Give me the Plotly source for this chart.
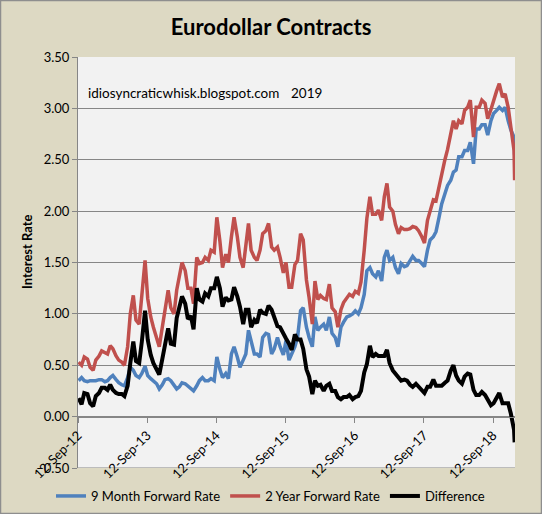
import pandas as pd
import plotly.graph_objects as go

# semi-monthly sample dates (1st / 15th) plus the final observation
dates = [d.strftime("%Y-%m-%d") for d in pd.date_range("2012-09-15", periods=152, freq="SMS")] + ["2019-01-04"]

two_year = [
    0.53, 0.50, 0.58, 0.56, 0.48, 0.45, 0.55, 0.59, 0.64, 0.62, 0.61, 0.69, 0.66, 0.59, 0.55, 0.53,
    0.50, 0.68, 1.00, 1.18, 0.94, 0.90, 1.15, 1.52, 1.15, 0.97, 0.87, 0.77, 0.68, 0.87, 1.06, 1.23,
    1.06, 1.00, 1.23, 1.36,
    1.50, 1.42, 1.25, 1.25, 1.10, 1.55, 1.49, 1.50, 1.55, 1.52, 1.62, 1.60, 1.94, 1.71, 1.45, 1.58,
    1.50, 1.75, 1.94, 1.75, 1.55, 1.45, 1.65, 1.88, 1.62, 1.55, 1.52, 1.62, 1.78, 1.81, 1.88, 1.65,
    1.62, 1.65, 1.55, 1.40, 1.50, 1.26, 1.26, 1.48, 1.52,
    1.78, 1.72, 1.33, 1.16, 0.90, 1.32, 1.14, 1.18, 1.15, 1.14, 1.29, 1.06, 1.02, 0.87, 1.04, 1.11,
    1.16, 1.19, 1.17, 1.22, 1.20, 1.31, 1.62, 1.93, 2.14, 1.97, 1.97, 2.01, 1.91, 2.14, 2.27, 2.04,
    2.00, 1.87, 1.78, 1.84,
    1.82, 1.82, 1.83, 1.85, 1.84, 1.81, 1.75, 1.69, 1.91, 2.01, 2.11, 2.10, 2.24, 2.37, 2.50, 2.60,
    2.75, 2.88, 2.80, 2.88, 2.85, 2.98, 3.01, 3.08, 2.72, 3.01, 3.01, 3.08, 3.05, 2.90, 2.99, 3.08,
    3.17, 3.24, 3.11, 3.14, 3.01, 2.82, 2.59, 2.30,
]

nine_month = [
    0.35, 0.38, 0.35, 0.34, 0.35, 0.35, 0.35, 0.36, 0.36, 0.34, 0.35, 0.38, 0.40, 0.36, 0.33, 0.31,
    0.30, 0.38, 0.48, 0.45, 0.40, 0.38, 0.42, 0.49, 0.40, 0.37, 0.35, 0.32, 0.27, 0.31, 0.36, 0.37,
    0.35, 0.30, 0.27, 0.29,
    0.33, 0.32, 0.30, 0.27, 0.25, 0.30, 0.35, 0.38, 0.35, 0.35, 0.37, 0.35, 0.58, 0.46, 0.38, 0.42,
    0.37, 0.61, 0.68, 0.58, 0.48, 0.55, 0.61, 0.84, 0.75, 0.61, 0.61, 0.58, 0.77, 0.81, 0.80, 0.61,
    0.66, 0.77, 0.68, 0.60, 0.74, 0.55, 0.61, 0.68, 0.77,
    1.03, 1.06, 0.87, 0.77, 0.68, 0.97, 0.84, 0.87, 0.90, 0.84, 0.97, 0.81, 0.77, 0.68, 0.87, 0.92,
    0.97, 0.98, 1.00, 1.03, 1.00, 1.06, 1.19, 1.42, 1.45, 1.39, 1.36, 1.42, 1.32, 1.55, 1.62, 1.52,
    1.55, 1.45, 1.39, 1.49,
    1.46, 1.47, 1.52, 1.56, 1.52, 1.52, 1.49, 1.46, 1.62, 1.72, 1.75, 1.80, 1.94, 2.07, 2.17, 2.25,
    2.30, 2.38, 2.40, 2.53, 2.53, 2.59, 2.59, 2.67, 2.46, 2.80, 2.80, 2.84, 2.84, 2.74, 2.88, 2.95,
    2.98, 3.01, 2.98, 3.01, 2.88, 2.79, 2.72, 2.55,
]

difference = [
    0.18, 0.12, 0.23, 0.22, 0.13, 0.10, 0.20, 0.23, 0.28, 0.28, 0.26, 0.31, 0.26, 0.23, 0.22, 0.22,
    0.20, 0.30, 0.52, 0.73, 0.54, 0.52, 0.73, 1.03, 0.75, 0.60, 0.52, 0.45, 0.41, 0.56, 0.70, 0.86,
    0.71, 0.70, 0.96, 1.07,
    1.17, 1.10, 0.95, 0.98, 0.85, 1.25, 1.14, 1.12, 1.20, 1.17, 1.25, 1.25, 1.36, 1.25, 1.07, 1.16,
    1.13, 1.14, 1.26, 1.17, 1.07, 0.90, 1.04, 1.04, 0.87, 0.94, 0.91, 1.04, 1.01, 1.00, 1.08, 1.04,
    0.96, 0.88, 0.87, 0.80, 0.76, 0.71, 0.65, 0.80, 0.75,
    0.75, 0.66, 0.46, 0.39, 0.22, 0.35, 0.30, 0.31, 0.25, 0.30, 0.32, 0.25, 0.25, 0.19, 0.17, 0.19,
    0.19, 0.21, 0.17, 0.19, 0.20, 0.25, 0.43, 0.51, 0.69, 0.58, 0.61, 0.59, 0.59, 0.59, 0.65, 0.52,
    0.45, 0.42, 0.39, 0.35,
    0.36, 0.35, 0.31, 0.29, 0.32, 0.29, 0.26, 0.23, 0.29, 0.29, 0.36, 0.30, 0.30, 0.30, 0.33, 0.35,
    0.45, 0.50, 0.40, 0.35, 0.32, 0.39, 0.42, 0.41, 0.26, 0.21, 0.21, 0.24, 0.21, 0.16, 0.11, 0.13,
    0.19, 0.23, 0.13, 0.13, 0.13, 0.03, -0.13, -0.25,
]

tick_dates = ["2012-09-12", "2013-09-12", "2014-09-12", "2015-09-12", "2016-09-12", "2017-09-12", "2018-09-12"]
tick_labels = ["12-Sep-12", "12-Sep-13", "12-Sep-14", "12-Sep-15", "12-Sep-16", "12-Sep-17", "12-Sep-18"]

FONT = "Lato"
L, R, T, B = 78, 27, 57, 46
W, H = 542, 514
PW, PH = W - L - R, H - T - B


def px_x(x):
    return (x - L) / PW


def px_y(y):
    return (H - B - y) / PH


fig = go.Figure()
fig.add_trace(go.Scatter(x=dates, y=nine_month, mode="lines", name="9 Month Forward Rate",
                         line=dict(color="#4F81BD", width=3.5)))
fig.add_trace(go.Scatter(x=dates, y=two_year, mode="lines", name="2 Year Forward Rate",
                         line=dict(color="#C0504D", width=3.5)))
fig.add_trace(go.Scatter(x=dates, y=difference, mode="lines", name="Difference",
                         line=dict(color="#000000", width=4)))

fig.update_layout(
    width=W, height=H,
    margin=dict(l=L, r=R, t=T, b=B, autoexpand=False),
    paper_bgcolor="#DDD9C3",
    plot_bgcolor="#F2F2F2",
    font=dict(family=FONT, size=13, color="#000000"),
    title=dict(text="<b>Eurodollar Contracts</b>", x=271 / W, xanchor="center", xref="container",
               y=1 - 27 / H, yanchor="middle", yref="container",
               font=dict(family=FONT, size=22, color="#000000")),
    showlegend=True,
    legend=dict(orientation="h", x=px_x(51), xanchor="left", y=px_y(496), yanchor="middle",
                bgcolor="rgba(0,0,0,0)", font=dict(family=FONT, size=13, color="#000000"),
                traceorder="normal"),
    xaxis=dict(type="date", range=["2012-09-12", "2019-01-06"], automargin=False,
               tickmode="array", tickvals=tick_dates, ticktext=tick_labels, tickangle=-45,
               anchor="free", position=0.125,
               showgrid=False, showline=True, linecolor="#868686", linewidth=1,
               ticks="outside", ticklen=5, tickcolor="#868686",
               tickfont=dict(family=FONT, size=13, color="#000000")),
    yaxis=dict(range=[-0.5, 3.5], dtick=0.5, tick0=0, tickformat=".2f", automargin=False,
               showgrid=True, gridcolor="#868686", gridwidth=1, zeroline=False,
               showline=True, linecolor="#868686", linewidth=1,
               ticks="outside", ticklen=5, tickcolor="#868686",
               tickfont=dict(family=FONT, size=13, color="#000000")),
)

# bottom gridline at -0.50
fig.add_shape(type="line", xref="paper", yref="y", x0=0, x1=1, y0=-0.5, y1=-0.5,
              line=dict(color="#868686", width=1), layer="below")

fig.add_annotation(text="<b>Interest Rate</b>", textangle=-90, xref="paper", yref="paper",
                   x=px_x(27), y=px_y(252), showarrow=False,
                   xanchor="center", yanchor="middle", font=dict(family=FONT, size=13, color="#000000"))
fig.add_annotation(text="idiosyncraticwhisk.blogspot.com", xref="paper", yref="paper",
                   x=px_x(86), y=px_y(93), showarrow=False,
                   xanchor="left", yanchor="middle", font=dict(family=FONT, size=13.5, color="#000000"))
fig.add_annotation(text="2019", xref="paper", yref="paper",
                   x=px_x(289), y=px_y(93), showarrow=False,
                   xanchor="left", yanchor="middle", font=dict(family=FONT, size=13.5, color="#000000"))

# outer chart border
fig.add_shape(type="rect", xref="paper", yref="paper",
              x0=px_x(0.5), x1=px_x(541.5), y0=px_y(513.5), y1=px_y(0.5),
              line=dict(color="#8E8E8E", width=1.5), fillcolor="rgba(0,0,0,0)", layer="above")

fig.write_html("out.html", config={"displayModeBar": False},
               post_script="document.body.style.margin='0';document.body.style.overflow='hidden';")
